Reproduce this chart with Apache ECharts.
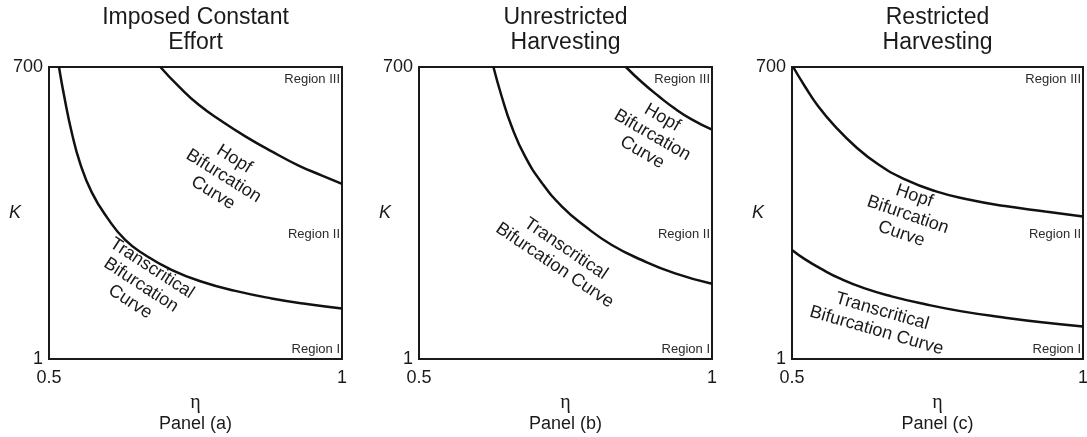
<!DOCTYPE html>
<html><head><meta charset="utf-8">
<script src="https://cdn.jsdelivr.net/npm/echarts@6/dist/echarts.min.js"></script>
<style>html,body{margin:0;padding:0;background:#fff}#c{width:1087px;height:437px}</style>
</head><body><div id="c"></div>
<script>
// ---- data ----
const panelTitles = ['Imposed Constant\nEffort', 'Unrestricted\nHarvesting', 'Restricted\nHarvesting'];
const panelNames = ['Panel (a)', 'Panel (b)', 'Panel (c)'];
const xTicks = [0.5, 1];
const yTicks = [1, 700];

// Panel (a)
const transA_eta = [0.517, 0.527, 0.539, 0.553, 0.573, 0.599, 0.630, 0.664, 0.710, 0.761, 0.818, 0.880, 0.943, 1.0];
const transA_K   = [700, 622, 542, 470, 400, 340, 286, 250, 214, 186, 164, 146, 132, 122];
const hopfA_eta  = [0.690, 0.721, 0.755, 0.795, 0.835, 0.880, 0.926, 0.966, 1.0];
const hopfA_K    = [700, 654, 610, 570, 534, 498, 464, 440, 420];

// Panel (b)
const transB_eta = [0.627, 0.641, 0.658, 0.681, 0.710, 0.744, 0.784, 0.829, 0.880, 0.937, 1.0];
const transB_K   = [700, 630, 558, 486, 422, 366, 318, 274, 238, 206, 181];
const hopfB_eta  = [0.853, 0.880, 0.909, 0.937, 0.966, 1.0];
const hopfB_K    = [700, 664, 630, 600, 574, 550];

// Panel (c)
const hopfC_eta  = [0.502, 0.522, 0.545, 0.574, 0.608, 0.648, 0.694, 0.746, 0.803, 0.866, 0.935, 1.0];
const hopfC_K    = [700, 654, 606, 558, 511, 467, 431, 403, 383, 367, 354, 342];
const transC_eta = [0.5, 0.522, 0.551, 0.585, 0.625, 0.671, 0.729, 0.792, 0.861, 0.929, 1.0];
const transC_K   = [262, 240, 216, 192, 170, 151, 132, 115, 101, 89, 79];

// region annotations
const regionNames = ['Region III', 'Region II', 'Region I'];
const regionK = [671, 300, 25];

// curve annotations
const curveText = [
  [{t: 'Hopf\nBifurcation\nCurve', p: [0.798, 439], r: -32}, {t: 'Transcritical\nBifurcation\nCurve', p: [0.657, 178], r: -33}],
  [{t: 'Hopf\nBifurcation\nCurve', p: [0.898, 537], r: -30}, {t: 'Transcritical\nBifurcation Curve', p: [0.741, 245], r: -34}],
  [{t: 'Hopf\nBifurcation\nCurve', p: [0.699, 346], r: -19}, {t: 'Transcritical\nBifurcation Curve', p: [0.650, 92], r: -16}]
];

const curves = [
  [[transA_eta, transA_K], [hopfA_eta, hopfA_K]],
  [[transB_eta, transB_K], [hopfB_eta, hopfB_K]],
  [[transC_eta, transC_K], [hopfC_eta, hopfC_K]]
];

// ---- layout ----
const FONT = 'Liberation Sans, Arial, sans-serif';
const INK = '#1a1a1a';
const grids = [
  {left: 49, top: 67, width: 293, height: 292},
  {left: 419, top: 67, width: 293, height: 292},
  {left: 792, top: 67, width: 291, height: 292}
];

const zip = (a, b) => a.map((v, i) => [v, b[i]]);

const option = {
  backgroundColor: '#fff',
  animation: false,
  grid: grids.map(g => Object.assign({show: true, borderColor: INK, borderWidth: 2, containLabel: false,
    outerBoundsMode: 'none'}, g)),
  xAxis: grids.map((g, i) => ({
    gridIndex: i, type: 'value', min: 0.5, max: 1,
    axisLine: {show: false}, axisTick: {show: false}, splitLine: {show: false},
    axisLabel: {customValues: xTicks, fontSize: 18, color: INK, fontFamily: FONT, margin: 10,
      formatter: v => String(v)},
    name: '{e|η}\n{p|' + panelNames[i] + '}',
    nameLocation: 'middle', nameGap: 34, nameMoveOverlap: false,
    nameTextStyle: {rich: {
      e: {fontFamily: 'Liberation Serif, serif', fontSize: 20, lineHeight: 20, color: INK},
      p: {fontFamily: FONT, fontSize: 18, lineHeight: 22, color: INK}
    }}
  })),
  yAxis: grids.map((g, i) => ({
    gridIndex: i, type: 'value', min: 1, max: 700,
    axisLine: {show: false}, axisTick: {show: false}, splitLine: {show: false},
    axisLabel: {customValues: yTicks, fontSize: 18, color: INK, fontFamily: FONT, margin: 6},
    name: 'K', nameLocation: 'middle', nameRotate: 0, nameGap: 28, nameMoveOverlap: false,
    nameTextStyle: {fontFamily: FONT, fontStyle: 'italic', fontSize: 18, color: INK, padding: [0, 0, 19, 0]}
  })),
  graphic: grids.map((g, i) => ({
    type: 'text', x: g.left + g.width / 2, y: 5,
    style: {text: panelTitles[i], align: 'center', verticalAlign: 'top', font: '23px ' + FONT,
      lineHeight: 25, fill: INK}
  })),
  series: []
};

curves.forEach((pc, i) => {
  pc.forEach(c => {
    option.series.push({
      type: 'line', xAxisIndex: i, yAxisIndex: i, data: zip(c[0], c[1]),
      smooth: 0.5, showSymbol: false, symbol: 'none', clip: true,
      lineStyle: {color: '#111', width: 2.5}
    });
  });
  option.series.push({
    type: 'scatter', xAxisIndex: i, yAxisIndex: i, symbolSize: 0, silent: true,
    itemStyle: {opacity: 1, color: INK},
    data: regionNames.map((n, j) => ({value: [1, regionK[j]], name: n})),
    label: {show: true, position: 'left', distance: 2, formatter: p => p.name,
      fontFamily: FONT, fontSize: 13, color: '#2a2a2a', textBorderWidth: 0}
  });
  option.series.push({
    type: 'scatter', xAxisIndex: i, yAxisIndex: i, symbolSize: 0, silent: true,
    itemStyle: {opacity: 1, color: INK},
    data: curveText[i].map(c => ({value: c.p, name: c.t, label: {rotate: c.r}})),
    label: {show: true, position: 'inside', formatter: p => p.name, align: 'center', verticalAlign: 'middle',
      fontFamily: FONT, fontSize: 18, lineHeight: 20, color: INK, textBorderWidth: 0, textBorderColor: 'transparent'}
  });
});

const chart = echarts.init(document.getElementById('c'), null, {renderer: 'canvas'});
chart.setOption(option);
</script></body></html>
